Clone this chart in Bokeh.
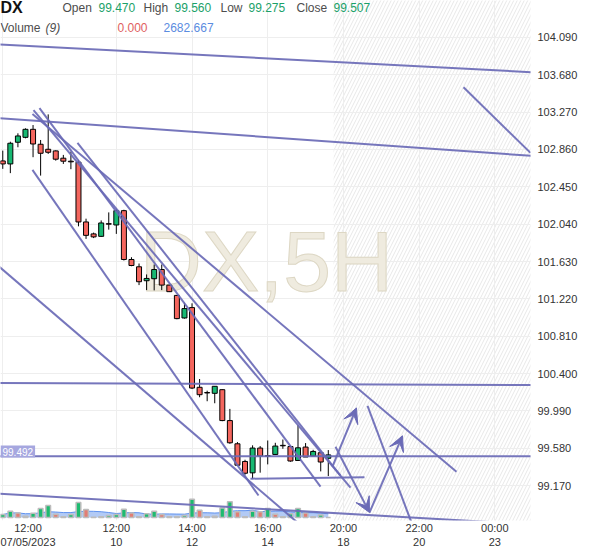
import pandas as pd
from bokeh.plotting import figure
from bokeh.models import (Range1d, FixedTicker, Label, Arrow, VeeHead,
                          ColumnDataSource, NumeralTickFormatter)
from bokeh.embed import file_html
from bokeh.resources import INLINE

# ---------------- data ----------------
opens = [102.734, 102.701, 102.939, 102.993, 103.081, 102.917, 102.862, 102.844, 102.764, 102.731,
         102.720, 102.064, 101.933, 101.906, 102.045, 102.031, 102.188, 101.652, 101.572, 101.419,
         101.441, 101.542, 101.371, 101.258, 101.010, 101.124, 100.249, 100.192, 100.183, 100.223,
         99.884, 99.629, 99.435, 99.310, 99.582, 99.498, 99.512, 99.612, 99.599, 99.446,
         99.593, 99.494, 99.531, 99.470]
highs = [102.847, 102.945, 103.037, 103.092, 103.128, 102.964, 103.245, 102.850, 102.800, 102.836,
         102.745, 102.100, 101.947, 102.081, 102.169, 102.209, 102.198, 101.677, 101.608, 101.488,
         101.597, 101.597, 101.375, 101.262, 101.178, 101.171, 100.340, 100.212, 100.260, 100.226,
         100.012, 99.648, 99.454, 99.612, 99.604, 99.665, 99.640, 99.676, 99.610, 99.837,
         99.637, 99.563, 99.545, 99.560]
lows = [102.647, 102.600, 102.884, 102.982, 102.775, 102.573, 102.811, 102.737, 102.701, 102.643,
        102.016, 101.878, 101.887, 101.900, 101.980, 101.933, 101.641, 101.578, 101.371, 101.316,
        101.313, 101.316, 101.295, 100.996, 101.003, 100.230, 100.140, 100.096, 100.074, 99.877,
        99.629, 99.392, 99.290, 99.241, 99.312, 99.403, 99.509, 99.574, 99.432, 99.443,
        99.484, 99.494, 99.326, 99.275]
closes = [102.701, 102.928, 103.008, 103.081, 102.920, 102.818, 102.829, 102.753, 102.731, 102.724,
          102.064, 101.917, 101.900, 102.053, 102.040, 102.188, 101.652, 101.586, 101.408, 101.444,
          101.542, 101.371, 101.299, 101.003, 101.113, 100.241, 100.168, 100.187, 100.260, 99.884,
          99.640, 99.394, 99.306, 99.582, 99.494, 99.492, 99.604, 99.607, 99.440, 99.585,
          99.484, 99.545, 99.429, 99.507]
volumes = [1600, 3400, 2500, 700, 2300, 4900, 6500, 1800, 400, 1600,
           8100, 4300, 200, 400, 1100, 1600, 4500, 2500, 400, 2000,
           3400, 1600, 400, 400, 1100, 9900, 3900, 400, 700, 5200,
           8600, 3100, 400, 3400, 3100, 4900, 1800, 400, 2000, 4900,
           2500, 400, 1300, 0]

price_ticks = [99.170, 99.580, 99.990, 100.400, 100.810, 101.220, 101.630,
               102.040, 102.450, 102.860, 103.270, 103.680, 104.090]
x_label_pos = [3, 15, 25, 35, 45, 55, 65]
x_grid_pos = [0, 15, 25, 35, 45, 55, 65]
x_labels = ["12:00\n07/05/2023", "12:00\n10", "14:00\n12", "16:00\n14",
            "20:00\n18", "22:00\n20", "00:00\n23"]

# drawn trend lines (bar index, price)
trend_x0 = [-0.5, -0.5, 60.86, 3.92, 4.85, 9.87, 4.06, 3.92, -0.5, -0.5, -0.5, 32.72, -0.5, 48.18]
trend_y0 = [104.013, 103.204, 103.543, 103.248, 103.314, 102.931, 103.292, 102.636, 101.575,
            100.296, 99.492, 99.246, 99.082, 100.045]
trend_x1 = [70.0, 70.0, 69.71, 59.93, 41.97, 44.61, 45.93, 33.78, 38.93, 70.0, 70.0, 47.78, 70.0, 53.99]
trend_y1 = [103.707, 102.789, 102.822, 99.323, 99.159, 99.279, 99.148, 99.061, 98.765,
            100.274, 99.492, 99.263, 98.743, 98.765]

arrow_x0 = [43.55, 43.95, 48.44]
arrow_y0 = [99.378, 99.596, 98.875]
arrow_x1 = [46.72, 48.44, 52.80]
arrow_y1 = [100.023, 98.875, 99.717]

future_start = 43.7

# ---------------- figure ----------------
FONT = "Liberation Sans"
LINE_C = "#6a6ab6"
GREEN = "#17b872"
RED = "#f4665e"
VOL_GREEN = "#1dbb70"
VOL_RED = "#e27d74"
FRAME_H = 522

p = figure(width=592, height=550, output_backend="svg", toolbar_location=None,
           x_range=Range1d(-0.30, 69.71), y_range=Range1d(98.787, 104.495),
           y_axis_location="right", min_border_left=0, min_border_top=0,
           min_border_right=62, min_border_bottom=550 - FRAME_H,
           background_fill_color="white", border_fill_color="white")
p.outline_line_color = None
p.extra_y_ranges = {"vol": Range1d(-1620, 280260)}

p.yaxis.ticker = FixedTicker(ticks=price_ticks)
p.yaxis.formatter = NumeralTickFormatter(format="0.000")
p.xaxis.ticker = FixedTicker(ticks=x_label_pos)
p.xaxis.major_label_overrides = {k: v for k, v in zip(x_label_pos, x_labels)}
for ax in (p.xaxis, p.yaxis):
    ax.axis_line_color = None
    ax.major_tick_line_color = None
    ax.minor_tick_line_color = None
    ax.major_tick_out = 0
    ax.major_tick_in = 0
    ax.minor_tick_out = 0
    ax.major_label_text_font = FONT
    ax.major_label_text_font_size = "11px"
    ax.major_label_text_color = "#333333"
p.yaxis.major_label_standoff = 7
p.xaxis.major_label_standoff = 1

p.xgrid.ticker = FixedTicker(ticks=x_grid_pos)
p.ygrid.ticker = FixedTicker(ticks=price_ticks)
p.xgrid.grid_line_color = "#eeeeee"
p.ygrid.grid_line_color = "#eeeeee"

# future (hatched) region
p.quad(left=[future_start], right=[70.5], bottom=[98.5], top=[104.7],
       fill_alpha=0, line_color=None, hatch_pattern="/", hatch_color="#e8e8e8",
       hatch_scale=7, hatch_weight=1, level="underlay")

# watermark
p.add_layout(Label(x=266, y=FRAME_H - 262, x_units="screen", y_units="screen", text="DX,5H",
                   text_align="center", text_baseline="middle",
                   text_font=FONT, text_font_size="86px",
                   text_color="#efebdf", text_outline_color="#ddd7c4", level="underlay"))

idx = list(range(len(opens)))
vol_ma = pd.Series(volumes).rolling(9, min_periods=1).mean().tolist()
col = [GREEN if c >= o else RED for o, c in zip(opens, closes)]
vcol = [VOL_GREEN if i == 0 or volumes[i] >= volumes[i - 1] else VOL_RED for i in idx]
src = ColumnDataSource(dict(x=idx, o=opens, h=highs, l=lows, c=closes, v=volumes, ma=vol_ma,
                            top=[max(o, c) for o, c in zip(opens, closes)],
                            bot=[min(o, c) for o, c in zip(opens, closes)],
                            col=col, vcol=vcol))

# volume
p.varea(x="x", y1=0, y2="ma", source=src, y_range_name="vol",
        fill_color="#a4c1f3", fill_alpha=0.85)
p.line(x="x", y="ma", source=src, y_range_name="vol", line_color="#5f92ee", line_width=1)
p.vbar(x="x", top="v", bottom=0, width=0.62, source=src, y_range_name="vol",
       fill_color="vcol", fill_alpha=1.0, line_color="#bcbcbc", line_width=1.5)

# candles
p.segment(x0="x", y0="l", x1="x", y1="h", source=src, line_color="black", line_width=1)
p.vbar(x="x", top="top", bottom="bot", width=0.66, source=src,
       fill_color="col", line_color="black", line_width=1)

# trend lines
tsrc = ColumnDataSource(dict(x0=trend_x0, y0=trend_y0, x1=trend_x1, y1=trend_y1))
p.segment(x0="x0", y0="y0", x1="x1", y1="y1", source=tsrc,
          line_color=LINE_C, line_width=2, line_alpha=0.92)
asrc = ColumnDataSource(dict(x0=arrow_x0, y0=arrow_y0, x1=arrow_x1, y1=arrow_y1))
p.add_layout(Arrow(end=VeeHead(size=15, fill_color=LINE_C, line_color=LINE_C, line_width=1),
                   x_start="x0", y_start="y0", x_end="x1", y_end="y1", source=asrc,
                   line_color=LINE_C, line_width=2, line_alpha=0.92))

# price tags
p.add_layout(Label(x=0, y=FRAME_H - 453, x_units="screen", y_units="screen", text="99.492",
                   text_align="left", text_baseline="middle", text_font=FONT,
                   text_font_size="10px", text_color="white",
                   background_fill_color="#a6a7df", padding=2))
p.add_layout(Label(x=532, y=FRAME_H - 459, x_units="screen", y_units="screen", text="   99.507   ",
                   text_align="left", text_baseline="middle", text_font=FONT,
                   text_font_size="13px", text_font_style="bold", text_color="white",
                   background_fill_color="#20c27a", padding=1, border_radius=2))

# header
def hdr(x, y, text, color="#4d4d4d", size="12px", style="normal"):
    p.add_layout(Label(x=x, y=FRAME_H - y, x_units="screen", y_units="screen", text=text,
                       text_align="left", text_baseline="middle", text_font=FONT,
                       text_font_size=size, text_color=color, text_font_style=style))

VAL_G = "#1aa169"
hdr(0, 9, "DX", color="#111111", size="16px", style="bold")
hdr(62, 9, "Open")
hdr(98, 9, "99.470", color=VAL_G)
hdr(143, 9, "High")
hdr(174, 9, "99.560", color=VAL_G)
hdr(220, 9, "Low")
hdr(248, 9, "99.275", color=VAL_G)
hdr(296, 9, "Close")
hdr(333, 9, "99.507", color=VAL_G)
hdr(0, 29, "Volume")
hdr(45, 29, "(9)", style="italic")
hdr(117, 29, "0.000", color="#e06060")
hdr(163, 29, "2682.667", color="#5b8ce0")

open("out.html", "w").write(file_html(p, INLINE))
